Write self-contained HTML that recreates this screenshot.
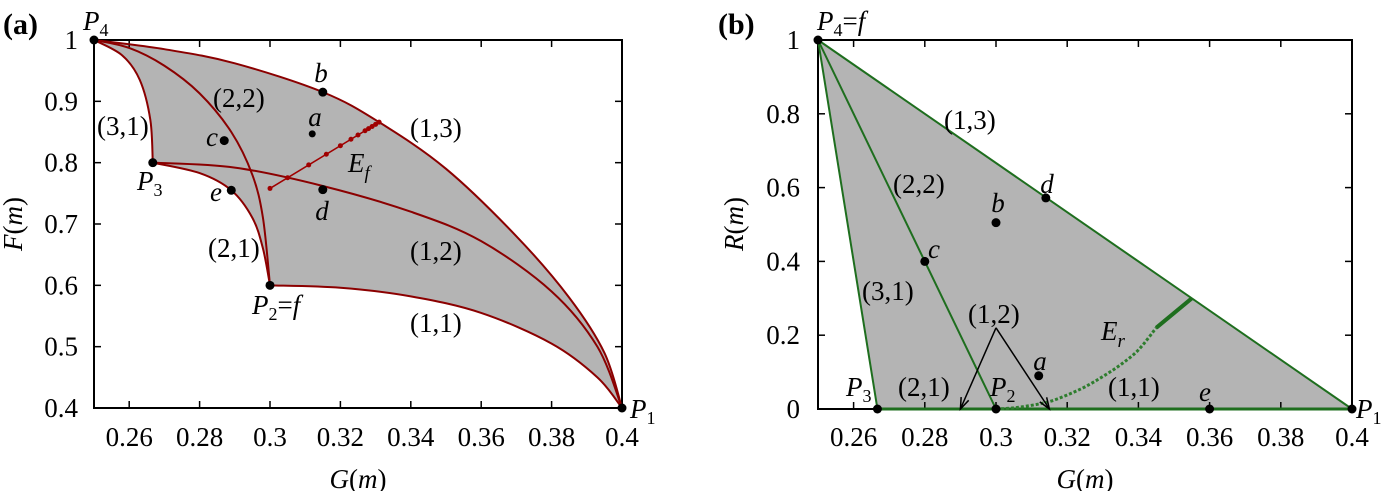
<!DOCTYPE html>
<html><head><meta charset="utf-8"><style>
body{margin:0;background:#fff;}
svg{display:block;}
svg text{font-family:"Liberation Serif","DejaVu Serif",serif;}
</style></head><body>
<svg id="s" width="1381" height="491" viewBox="0 0 1381 491"></svg>
<script>
const NS="http://www.w3.org/2000/svg";
const svg=document.getElementById('s');
// ---- data panel a ----
const xTicks=[0.26,0.28,0.3,0.32,0.34,0.36,0.38,0.4];
const xTickLabels=["0.26","0.28","0.3","0.32","0.34","0.36","0.38","0.4"];
const yTicksA=[0.4,0.5,0.6,0.7,0.8,0.9,1];
const yTickLabelsA=["0.4","0.5","0.6","0.7","0.8","0.9","1"];
const curve13=[[0.25,1],[0.27,0.985],[0.29,0.962],[0.315,0.915],[0.331,0.866],[0.35,0.79],[0.37,0.68],[0.385,0.58],[0.395,0.49],[0.4,0.4]];
const curve22=[[0.25,1],[0.26,0.987],[0.27,0.958],[0.28,0.913],[0.289,0.85],[0.295,0.78],[0.298,0.71],[0.3,0.6]];
const curve31=[[0.25,1],[0.258,0.975],[0.263,0.935],[0.266,0.87],[0.2667,0.8]];
const curve12=[[0.2667,0.8],[0.29,0.792],[0.315,0.762],[0.34,0.72],[0.36,0.672],[0.38,0.59],[0.393,0.5],[0.4,0.4]];
const curve21=[[0.2667,0.8],[0.28,0.783],[0.289,0.755],[0.295,0.71],[0.298,0.66],[0.3,0.6]];
const curve11=[[0.3,0.6],[0.32,0.596],[0.34,0.582],[0.36,0.555],[0.38,0.505],[0.393,0.45],[0.4,0.4]];
const efLine=[[0.3,0.758],[0.331,0.866]];
const efDots=[0.3,0.305,0.311,0.316,0.32,0.323,0.325,0.327,0.328,0.329,0.33,0.331];
const ptsA=[["P4",0.25,1],["P3",0.2667,0.8],["P2",0.3,0.6],["P1",0.4,0.4],["b",0.315,0.915],["c",0.287,0.836],["d",0.315,0.756],["e",0.289,0.755]];
const ptA_a=[0.312,0.847];
// ---- data panel b ----
const yTicksB=[0,0.2,0.4,0.6,0.8,1];
const yTickLabelsB=["0","0.2","0.4","0.6","0.8","1"];
const P4b=[0.25,1],P3b=[0.2667,0],P2b=[0.3,0],P1b=[0.4,0];
const ptsB=[["c",0.28,0.4],["b",0.3,0.505],["d",0.314,0.572],["a",0.312,0.09],["e",0.36,0]];
const erDotted=[[0.3,0],[0.305,0.003],[0.31,0.01],[0.315,0.02],[0.32,0.038],[0.325,0.06],[0.33,0.088],[0.335,0.12],[0.34,0.16],[0.345,0.22]];
const erThick=[[0.345,0.22],[0.355,0.3]];
const arrowFrom=[0.3,0.22], arrowTo=[[0.29,0],[0.315,0]];

function el(t,a,p){const e=document.createElementNS(NS,t);for(const k in a)e.setAttribute(k,a[k]);(p||svg).appendChild(e);return e;}
function txt(x,y,s,cls,anchor,name){
const it=(cls||'').indexOf('it')>=0;
const e=el('text',{x:x,y:y,'text-anchor':anchor||'start',style:'font-size:27px;font-style:'+(it?'italic':'normal')+';fill:#000'});
e.innerHTML=s;

return e;}
const IT='font-style="italic"';
const SUB='style="font-size:18px"';
function mkX(x0,x1){return v=>x0+(v-0.25)/0.15*(x1-x0);}
const ax=mkX(94,622), ay=v=>408-(v-0.4)/0.6*368;
const bx=mkX(818,1352), by=v=>409-v*369;
function smooth(pts,X,Y){const p=pts.map(q=>[X(q[0]),Y(q[1])]);let d='M'+p[0][0]+','+p[0][1];
for(let i=0;i<p.length-1;i++){const p0=p[i-1]||p[i],p1=p[i],p2=p[i+1],p3=p[i+2]||p2;
const c1=[p1[0]+(p2[0]-p0[0])/6,p1[1]+(p2[1]-p0[1])/6],c2=[p2[0]-(p3[0]-p1[0])/6,p2[1]-(p3[1]-p1[1])/6];
d+=` C${c1[0]},${c1[1]} ${c2[0]},${c2[1]} ${p2[0]},${p2[1]}`;}return d;}
function rev(a){return a.slice().reverse();}

// ===== Panel A =====
const gA=el('g',{});
let f=el('path',{d:smooth(curve13,ax,ay)+' '+smooth(rev(curve11),ax,ay).replace('M','L')+' '+smooth(rev(curve21),ax,ay).replace('M','L')+' '+smooth(rev(curve31),ax,ay).replace('M','L')+'Z',fill:'#b4b4b4'},gA);

let fr=el('rect',{x:94,y:40,width:528,height:368,fill:'none',stroke:'#000','stroke-width':2},gA);

xTicks.forEach((v,i)=>{el('line',{x1:ax(v),x2:ax(v),y1:408,y2:401,stroke:'#000','stroke-width':1.5},gA);el('line',{x1:ax(v),x2:ax(v),y1:40,y2:47,stroke:'#000','stroke-width':1.5},gA);
txt(ax(v),446,xTickLabels[i],'','middle','x-tick-label-a');});
yTicksA.forEach((v,i)=>{el('line',{x1:94,x2:101,y1:ay(v),y2:ay(v),stroke:'#000','stroke-width':1.5},gA);el('line',{x1:615,x2:622,y1:ay(v),y2:ay(v),stroke:'#000','stroke-width':1.5},gA);
txt(78,ay(v)+9,yTickLabelsA[i],'','end','y-tick-label-a');});
[[curve13,'curve-1-3'],[curve22,'curve-2-2'],[curve31,'curve-3-1'],[curve12,'curve-1-2'],[curve21,'curve-2-1'],[curve11,'curve-1-1']].forEach(([c,n])=>{
const p=el('path',{d:smooth(c,ax,ay),fill:'none',stroke:'#8b0000','stroke-width':2},gA);
});
let ef=el('line',{x1:ax(efLine[0][0]),y1:ay(efLine[0][1]),x2:ax(efLine[1][0]),y2:ay(efLine[1][1]),stroke:'#a00000','stroke-width':1.5},gA);

const efSlope=(efLine[1][1]-efLine[0][1])/(efLine[1][0]-efLine[0][0]);
efDots.forEach(g=>{const c=el('circle',{cx:ax(g),cy:ay(efLine[0][1]+(g-efLine[0][0])*efSlope),r:2.5,fill:'#a00000'},gA);
});
ptsA.forEach(p=>{const c=el('circle',{cx:ax(p[1]),cy:ay(p[2]),r:4.5,fill:'#000'},gA);
});
let ca=el('circle',{cx:ax(ptA_a[0]),cy:ay(ptA_a[1]),r:3.5,fill:'#000'},gA);

txt(3,34,'<tspan font-weight="bold" style="font-size:30px">(a)</tspan>','','start','panel-label-a');
txt(83,30,`<tspan ${IT}>P</tspan><tspan ${SUB} dy="6">4</tspan>`,'','start','p4-label');
txt(137,190,`<tspan ${IT}>P</tspan><tspan ${SUB} dy="6">3</tspan>`,'','start','p3-label');
txt(252,314,`<tspan ${IT}>P</tspan><tspan ${SUB} dy="6">2</tspan><tspan dy="-6">=</tspan><tspan ${IT}>f</tspan>`,'','start','p2-label');
txt(630,418,`<tspan ${IT}>P</tspan><tspan ${SUB} dy="6">1</tspan>`,'','start','p1-label');
txt(321,82,'b','it','middle','b-label');txt(315,126,'a','it','middle','a-label');
txt(218,146,'c','it','end','c-label');txt(222,201,'e','it','end','e-label');
txt(322,220,'d','it','middle','d-label');
txt(348,172,`<tspan ${IT}>E</tspan><tspan ${IT} style="font-size:19px" dy="7">f</tspan>`,'','start','ef-label');
txt(213,107,'(2,2)','','start');txt(97,135,'(3,1)','','start');txt(410,137,'(1,3)','','start');
txt(208,257,'(2,1)','','start');txt(410,260,'(1,2)','','start');txt(410,332,'(1,1)','','start');
txt(358,488,`<tspan ${IT}>G</tspan>(<tspan ${IT}>m</tspan>)`,'','middle','x-axis-title-a');
let yt=txt(0,0,`<tspan ${IT}>F</tspan>(<tspan ${IT}>m</tspan>)`,'','middle','y-axis-title-a');yt.setAttribute('transform','translate(22,224) rotate(-90)');

// ===== Panel B =====
const gB=el('g',{});
let fb=el('polygon',{points:[P4b,P3b,P1b].map(p=>bx(p[0])+','+by(p[1])).join(' '),fill:'#b4b4b4'},gB);

let frb=el('rect',{x:818,y:40,width:534,height:369,fill:'none',stroke:'#000','stroke-width':2},gB);

xTicks.forEach((v,i)=>{el('line',{x1:bx(v),x2:bx(v),y1:409,y2:402,stroke:'#000','stroke-width':1.5},gB);el('line',{x1:bx(v),x2:bx(v),y1:40,y2:47,stroke:'#000','stroke-width':1.5},gB);
txt(bx(v),446,xTickLabels[i],'','middle','x-tick-label-b');});
yTicksB.forEach((v,i)=>{el('line',{x1:818,x2:825,y1:by(v),y2:by(v),stroke:'#000','stroke-width':1.5},gB);el('line',{x1:1345,x2:1352,y1:by(v),y2:by(v),stroke:'#000','stroke-width':1.5},gB);
txt(800,by(v)+9,yTickLabelsB[i],'','end','y-tick-label-b');});
[[P4b,P1b,'line-1-3'],[P4b,P2b,'line-2-2'],[P4b,P3b,'line-3-1'],[P3b,P1b,'line-bottom']].forEach(([p,q,n])=>{
const l=el('line',{x1:bx(p[0]),y1:by(p[1]),x2:bx(q[0]),y2:by(q[1]),stroke:'#1e6e1e','stroke-width':n=='line-bottom'?3:2},gB);
});
let er=el('path',{d:smooth(erDotted,bx,by),fill:'none',stroke:'#2e7d2e','stroke-width':3,'stroke-dasharray':'3 2'},gB);

let er2=el('line',{x1:bx(erThick[0][0]),y1:by(erThick[0][1]),x2:bx(erThick[1][0]),y2:by(erThick[1][1]),stroke:'#1e6e1e','stroke-width':4},gB);

arrowTo.forEach(t=>{const x0=bx(arrowFrom[0]),y0=by(arrowFrom[1]),x1=bx(t[0]),y1=by(t[1]);
const l=el('line',{x1:x0,y1:y0,x2:x1,y2:y1,stroke:'#000','stroke-width':1.5},gB);

const a=Math.atan2(y1-y0,x1-x0),L=12;
el('polyline',{points:`${x1-L*Math.cos(a-0.35)},${y1-L*Math.sin(a-0.35)} ${x1},${y1} ${x1-L*Math.cos(a+0.35)},${y1-L*Math.sin(a+0.35)}`,fill:'none',stroke:'#000','stroke-width':1.5},gB);});
[["p4",P4b],["p3",P3b],["p2",P2b],["p1",P1b]].forEach(([n,p])=>{const c=el('circle',{cx:bx(p[0]),cy:by(p[1]),r:4.5,fill:'#000'},gB);
});
ptsB.forEach(p=>{const c=el('circle',{cx:bx(p[1]),cy:by(p[2]),r:4.5,fill:'#000'},gB);
});
txt(718,34,'<tspan font-weight="bold" style="font-size:30px">(b)</tspan>','','start','panel-label-b');
txt(817,30,`<tspan ${IT}>P</tspan><tspan ${SUB} dy="6">4</tspan><tspan dy="-6">=</tspan><tspan ${IT}>f</tspan>`,'','start','p4-label-b');
txt(846,396,`<tspan ${IT}>P</tspan><tspan ${SUB} dy="6">3</tspan>`,'','start');
txt(990,396,`<tspan ${IT}>P</tspan><tspan ${SUB} dy="6">2</tspan>`,'','start');
txt(1356,418,`<tspan ${IT}>P</tspan><tspan ${SUB} dy="6">1</tspan>`,'','start');
txt(998,212,'b','it','middle');txt(1047,193,'d','it','middle');txt(934,258,'c','it','middle');
txt(1040,370,'a','it','middle');txt(1205,401,'e','it','middle');
txt(1101,340,`<tspan ${IT}>E</tspan><tspan ${IT} style="font-size:19px" dy="7">r</tspan>`,'','start','er-label');
txt(944,129,'(1,3)','','start');txt(893,193,'(2,2)','','start');txt(862,300,'(3,1)','','start');
txt(968,323,'(1,2)','','start');txt(898,396,'(2,1)','','start');txt(1108,396,'(1,1)','','start');
txt(1085,488,`<tspan ${IT}>G</tspan>(<tspan ${IT}>m</tspan>)`,'','middle','x-axis-title-b');
let yt2=txt(0,0,`<tspan ${IT}>R</tspan>(<tspan ${IT}>m</tspan>)`,'','middle','y-axis-title-b');yt2.setAttribute('transform','translate(743,224) rotate(-90)');
</script>
</body></html>
